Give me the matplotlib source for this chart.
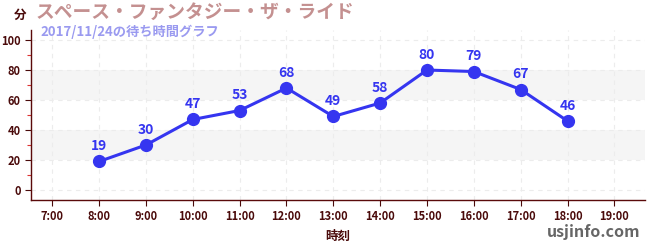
import matplotlib
matplotlib.use("Agg")
import matplotlib.pyplot as plt
from matplotlib.ticker import MultipleLocator

plt.rcParams['font.family'] = ['Noto Sans CJK JP', 'DejaVu Sans']

hours = [8, 9, 10, 11, 12, 13, 14, 15, 16, 17, 18]
waits = [19, 30, 47, 53, 68, 49, 58, 80, 79, 67, 46]
tick_hours = list(range(7, 20))
tick_labels = ["%d:00" % h for h in tick_hours]

title = "スペース・ファンタジー・ザ・ライド"
subtitle = "2017/11/24の待ち時間グラフ"

dark = "#4a0a0a"
line_col = "#3535f0"

fig = plt.figure(figsize=(6.5, 2.5), dpi=100)
ax = fig.add_axes([0.048, 0.2, 0.944, 0.68])

ax.set_xlim(6.55, 19.65)
ax.set_ylim(-6.7, 106.7)

# light bands behind the data
for lo, hi in [(20, 40), (60, 80)]:
    ax.axhspan(lo, hi, color="#f5f5f5", zorder=0, lw=0)

ax.grid(True, which="major", color="#ececec", linestyle=(0, (4, 4)), lw=0.8, zorder=1)

ax.plot(hours, waits, color=line_col, lw=2.2, marker="o", ms=8.5, zorder=3)
for h, w in zip(hours, waits):
    ax.annotate(str(w), (h, w), xytext=(0, 6), textcoords="offset points",
                ha="center", va="bottom", color=line_col, fontsize=10, fontweight="bold")

ax.set_xticks(tick_hours)
ax.set_xticklabels(tick_labels)
ax.yaxis.set_major_locator(MultipleLocator(20))
ax.yaxis.set_minor_locator(MultipleLocator(10))
ax.tick_params(axis="both", which="major", colors=dark, labelsize=8, length=4, width=0.8)
ax.tick_params(axis="y", which="minor", color="#dd3333", length=3, width=0.8)
for lab in ax.get_xticklabels() + ax.get_yticklabels():
    lab.set_color(dark)
    lab.set_fontweight("bold")

for s in ["top", "right"]:
    ax.spines[s].set_visible(False)
for s in ["left", "bottom"]:
    ax.spines[s].set_color("#5a0a0a")
    ax.spines[s].set_linewidth(1)

ax.set_xlabel("時刻", color=dark, fontsize=9, fontweight="bold", labelpad=5)

fig.text(0.031, 0.94, "分", color=dark, fontsize=9, fontweight="bold", ha="center", va="center")
fig.text(0.054, 0.95, title, color="#c49090", fontsize=13.5, fontweight="bold", ha="left", va="center")
fig.text(0.062, 0.872, subtitle, color="#9a9af0", fontsize=9.5, fontweight="bold", ha="left", va="center")
fig.text(0.985, 0.07, "usjinfo.com", color="#666666", fontsize=11.5, fontweight="bold", ha="right", va="center")

fig.savefig("out.png", dpi=100)
